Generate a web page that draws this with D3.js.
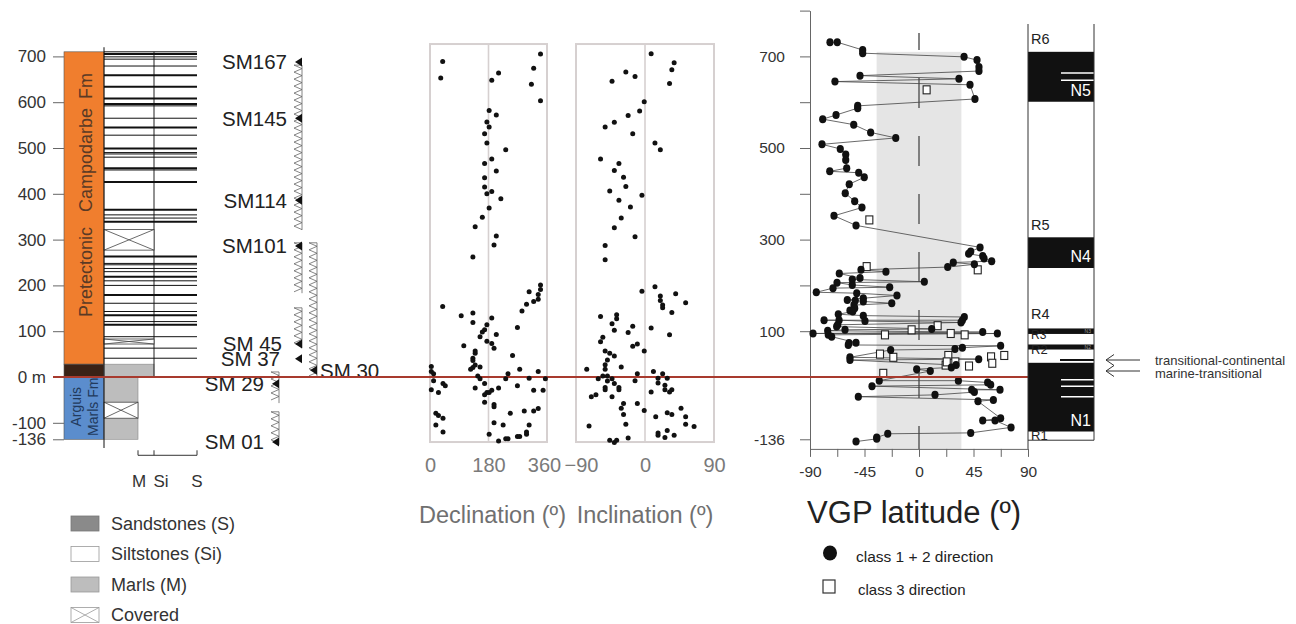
<!DOCTYPE html>
<html>
<head>
<meta charset="utf-8">
<script src="https://cdn.jsdelivr.net/npm/d3@7"></script>
<style>
  body { margin: 0; background: #fff; }
  text { font-family: "Liberation Sans", Arial, sans-serif; }
</style>
</head>
<body>
<div id="chart"></div>
<script>
let width = 1296
let height = 624

// ---- data (depths in m) ----
let depthTicks = [700, 600, 500, 400, 300, 200, 100, 0, -100, -136]
let units = [
  { name: 'campodarbe', top: 710, base: 28 },
  { name: 'transition', top: 28, base: 0 },
  { name: 'arguis', top: 0, base: -136 }
]
let sandBeds = [710, 705, 699, 694, 679, 659, 634, 608, 596, 592, 565, 545, 528, 499, 490, 487, 480, 456, 452, 426,
  365, 354, 347, 339, 263, 248, 245, 237, 230, 219, 210, 200, 179, 161, 143, 135, 121, 114, 88, 63, 41]
let thickBeds = [705, 659, 634, 608, 596, 545, 499, 456, 426, 365, 339, 263, 219, 179, 135, 114]
let marlBoxes = [[28, 0, 'Si'], [0, -136, 'M']]
let covered = [[322, 277, 'Si'], [83, 72, 'Si'], [-55, -90, 'M']]
let sampledIntervals = [['A', 681, 321], ['A', 293, 183], ['A', 151, 63], ['B', 293, -2], ['C', 11, -57], ['C', -76, -148]]
let sampleNames = ['SM167', 'SM145', 'SM114', 'SM101', 'SM 45', 'SM 37', 'SM 30', 'SM 29', 'SM 01']
let sampleDepths = [688, 565, 386, 286, 72, 40, 15, -15, -142]
let sampleCols = ['A', 'A', 'A', 'A', 'A', 'A', 'B', 'C', 'C']

// [depth, declination]
let declination = [[705,340],[689,39],[674,319],[664,211],[653,33],[648,190],[639,312],[603,340],[582,182],[572,204],
  [557,175],[546,182],[531,168],[511,175],[496,233],[476,190],[466,168],[450,204],[435,168],[415,168],[405,190],[400,175],
  [389,218],[369,182],[349,161],[328,139],[308,204],[288,197],[262,132],[201,340],[191,340],[186,305],[180,333],[170,333],
  [165,319],[159,297],[154,39],[144,283],[140,132],[134,96],[129,190],[119,132],[114,175],[108,269],[103,168],[98,161],
  [93,204],[88,154],[78,175],[73,190],[68,104],[63,197],[57,139],[52,139],[47,254],[41,132],[36,132],[26,139],[23,4],
  [22,154],[21,132],[17,125],[17,276],[12,4],[12,333],[7,11],[7,240],[2,147],[-3,305],[-4,233],[-4,355],[-4,154],[-8,11],
  [-14,168],[-14,40],[-19,269],[-19,47],[-24,211],[-24,139],[-28,4],[-29,190],[-29,319],[-29,348],[-34,175],[-34,182],
  [-34,26],[-39,168],[-55,168],[-60,197],[-65,197],[-69,333],[-74,290],[-74,319],[-79,247],[-79,18],[-84,26],[-90,40],
  [-100,197],[-105,225],[-105,305],[-105,18],[-120,297],[-120,40],[-125,182],[-125,297],[-130,269],[-130,276],[-135,233],
  [-135,240],[-140,211]]

// [depth, inclination]
let inclination = [[706,8],[686,38],[671,35],[666,-25],[656,-13],[646,-43],[641,32],[601,-1],[581,-7],[571,-22],[556,-40],
  [546,-52],[531,-16],[511,13],[496,20],[476,-58],[466,-34],[451,-40],[436,-28],[416,-25],[406,-46],[397,-4],[386,-34],
  [371,-19],[347,-31],[326,-40],[306,-13],[287,-52],[256,-52],[197,13],[187,-4],[182,40],[177,20],[167,20],[162,53],
  [157,23],[151,23],[141,35],[136,-37],[132,-58],[127,-37],[116,-43],[111,-16],[107,8],[102,-40],[97,-22],[92,32],
  [87,-55],[77,-58],[72,-10],[67,-16],[57,-1],[57,-52],[52,-46],[46,-40],[37,-49],[27,-52],[22,-31],[17,-52],[17,-76],
  [12,11],[7,-10],[7,23],[2,-55],[2,-49],[-3,17],[-3,29],[-4,-61],[-4,-43],[-8,-13],[-9,-49],[-13,17],[-14,-40],[-18,26],
  [-23,-52],[-23,-34],[-28,-52],[-28,-34],[-28,26],[-28,35],[-33,32],[-33,8],[-39,-64],[-43,-70],[-43,-43],[-58,-28],
  [-58,-10],[-68,-31],[-68,47],[-73,-1],[-78,29],[-82,-28],[-82,35],[-87,14],[-87,53],[-103,-25],[-103,53],[-107,-73],
  [-108,64],[-117,29],[-122,17],[-127,17],[-127,38],[-132,26],[-133,-22],[-138,-46],[-138,-37],[-143,-40]]

// [depth, VGP latitude], class 1 + 2, in sampling order
let vgpClass12 = [[731,-73.5],[731,-67.5],[714,-46.5],[707,-46.5],[699,37.2],[692,47.9],[677,49.5],[668,49.5],[658,-48.7],
  [651,33],[645,-69.4],[638,42.1],[607,46.2],[592,-50.6],[587,-50.6],[572,-68.5],[563,-79.5],[551,-53.9],[534,-39.9],
  [522,-19.2],[508,-80.1],[498,-65],[486,-60.5],[474,-60.5],[456,-59.7],[449,-73.7],[446,-49.8],[436,-45.2],[421,-57.6],
  [401,-60.9],[384,-53.1],[370,-47.1],[352,-70.2],[331,-52],[283,50.4],[274,42.7],[269,41],[264,52.6],[259,53.7],[253,60],
  [250,28.3],[246,45.7],[240,23.7],[234,-47.9],[230,-27.3],[226,-65.8],[216,-48.7],[213,-55.1],[208,4.4],[206,-67.7],
  [201,-55.1],[196,-24.2],[194,-71],[185,-84.8],[183,-51.4],[178,-18.2],[172,-46],[168,-59.2],[167,-52.6],[165,-46],
  [161,-22.5],[157,-53.7],[150,-53.1],[145,-57],[143,-54.7],[137,-66.6],[134,-46],[131,37.4],[124,35.8],[124,-78.4],
  [124,-66],[122,-44.6],[119,34.7],[114,-67.1],[110,-68],[105,10.5],[103,-61.1],[101,-75.4],[98,52.6],[95,-87.5],[95,64.7],
  [92,-74.9],[88,-72.1],[75,-52],[74,-57.8],[70,-58.4],[68,67.4],[64,35.8],[61,29.7],[59,-23.4],[43,-57],[39,49.3],[37,-57],
  [26,30.6],[21,26.7],[17,-1.9],[13,9.3],[-8,-32.8],[-8,32.5],[-12,56.7],[-17,59.2],[-20,-38.8],[-28,66.9],[-28,43.5],
  [-33,45.7],[-39,13.2],[-43,-50.1],[-50,61.4],[-53,48.7],[-90,67.4],[-95,52.6],[-95,62.8],[-110,76],[-122,42.7],
  [-124,-25.8],[-132,-34.9],[-135,-34.9],[-141,-52]]
let vgpClass3 = [[627,6.3],[343,-41],[241,-43.2],[234,48.5],[112,15.4],[103,-6.1],[92,-28.1],[95,26.2],[92,37.7],[50,-32.2],
  [43,-21.2],[47,24.2],[44,59.5],[47,70.4],[26,22],[33,22.9],[33,30],[30,60.5],[24,41.3],[8,-29.5]]

let normalZones = [[710, 601], [305, 238], [106, 94], [71, 60], [31, -119]]
let normalNames = ['N5', 'N4', 'N3', 'N2', 'N1']
let reversedNames = ['R6', 'R5', 'R4', 'R3', 'R2', 'R1']
let reversedDepths = [726, 321, 126, 84, 50, -137]
let whiteLines = [664, 648, -6, -20, -43]
let lithoLegend = ['Sandstones (S)', 'Siltstones (Si)', 'Marls (M)', 'Covered']

// ---- scales ----
let depth = d3.scaleLinear().domain([0, 700]).range([377, 56.4])
let grainX = d3.scaleOrdinal().domain(['base', 'M', 'Si', 'S']).range([104, 138, 154, 197])
let siteX = d3.scaleOrdinal().domain(['A', 'B', 'C']).range([294, 309, 271])
let decX = d3.scaleLinear().domain([0, 360]).range([430, 547])
let incX = d3.scaleLinear().domain([-90, 90]).range([576, 714])
let vgpX = d3.scaleLinear().domain([-90, 90]).range([810, 1028])
let vgpY = depth.copy().domain([-157, 800]).range([depth(-157), depth(800)])

let unitColor = { campodarbe: '#f07e2e', transition: '#3a2216', arguis: '#5b8dcd' }

let svg = d3.select('#chart').append('svg')
  .attr('width', width)
  .attr('height', height)

// ---- stratigraphic column ----
let strat = svg.append('g')

strat.selectAll('rect.unit')
  .data(units)
  .enter().append('rect')
  .attr('x', 64)
  .attr('width', 40)
  .attr('y', d => depth(d.top))
  .attr('height', d => depth(d.base) - depth(d.top))
  .attr('fill', d => unitColor[d.name])
  .attr('stroke', '#555')
  .attr('stroke-width', 0.6)

let depthAxis = strat.append('g')
  .attr('transform', 'translate(64,0)')
  .call(d3.axisLeft(depth).tickValues(depthTicks).tickSize(11).tickPadding(7)
    .tickFormat(d => d === 0 ? '0 m' : d))
depthAxis.select('.domain').remove()
depthAxis.selectAll('line').attr('stroke', '#666')
depthAxis.selectAll('text').attr('font-size', 17).attr('fill', '#333')

// formation name, word by word as in the original
let fmLabels = [['Fm', 86], ['Campodarbe', 160], ['Pretectonic', 272]]
strat.selectAll('text.fm')
  .data(fmLabels)
  .enter().append('text')
  .attr('transform', d => 'translate(86,' + d[1] + ') rotate(-90)')
  .attr('text-anchor', 'middle')
  .attr('dy', '0.35em')
  .attr('font-size', 18)
  .attr('fill', '#5a3a25')
  .text(d => d[0])

strat.append('text')
  .attr('transform', 'translate(76,' + depth(-65) + ') rotate(-90)')
  .attr('text-anchor', 'middle').attr('dy', '0.35em')
  .attr('font-size', 14).attr('fill', '#223a5c')
  .text('Arguis')
strat.append('text')
  .attr('transform', 'translate(93,' + depth(-65) + ') rotate(-90)')
  .attr('text-anchor', 'middle').attr('dy', '0.35em')
  .attr('font-size', 14).attr('fill', '#223a5c')
  .text('Marls Fm')

// lithology
let litho = svg.append('g')
litho.selectAll('rect.marl')
  .data(marlBoxes)
  .enter().append('rect')
  .attr('x', grainX('base'))
  .attr('y', d => depth(d[0]))
  .attr('width', d => grainX(d[2]) - grainX('base'))
  .attr('height', d => depth(d[1]) - depth(d[0]))
  .attr('fill', '#bdbdbd')
  .attr('stroke', '#888')
  .attr('stroke-width', 0.6)

litho.append('line')
  .attr('x1', grainX('Si')).attr('x2', grainX('Si'))
  .attr('y1', depth(710)).attr('y2', depth(0))
  .attr('stroke', '#222').attr('stroke-width', 1)

litho.selectAll('line.bed')
  .data(sandBeds)
  .enter().append('line')
  .attr('x1', grainX('base')).attr('x2', grainX('S'))
  .attr('y1', d => depth(d)).attr('y2', d => depth(d))
  .attr('stroke', '#111')
  .attr('stroke-width', d => thickBeds.includes(d) ? 2 : 1)

let cov = litho.selectAll('g.cov')
  .data(covered)
  .enter().append('g')
cov.append('rect')
  .attr('x', grainX('base'))
  .attr('y', d => depth(d[0]))
  .attr('width', d => grainX(d[2]) - grainX('base'))
  .attr('height', d => depth(d[1]) - depth(d[0]))
  .attr('fill', '#fff')
  .attr('stroke', '#444').attr('stroke-width', 0.8)
cov.append('path')
  .attr('d', d => {
    let x0 = grainX('base'), x1 = grainX(d[2]), y0 = depth(d[0]), y1 = depth(d[1])
    return 'M' + x0 + ',' + y0 + 'L' + x1 + ',' + y1 + 'M' + x0 + ',' + y1 + 'L' + x1 + ',' + y0
  })
  .attr('stroke', '#444').attr('stroke-width', 0.8).attr('fill', 'none')

litho.append('line')
  .attr('x1', grainX('base')).attr('x2', grainX('base'))
  .attr('y1', depth(720)).attr('y2', depth(-155))
  .attr('stroke', '#111').attr('stroke-width', 1)

// grain-size scale
let yb = depth(-136) + 16
litho.append('path')
  .attr('d', 'M' + grainX('M') + ',' + (yb - 5) + 'V' + yb + 'H' + grainX('S') + 'V' + (yb - 5) +
    'M' + grainX('Si') + ',' + yb + 'V' + (yb - 5))
  .attr('fill', 'none').attr('stroke', '#333').attr('stroke-width', 1)
litho.selectAll('text.grain')
  .data(['M', 'Si', 'S'])
  .enter().append('text')
  .attr('x', d => grainX(d) + (d === 'M' ? 1 : d === 'Si' ? 7 : 0))
  .attr('y', 487)
  .attr('text-anchor', 'middle')
  .attr('font-size', 17).attr('fill', '#333')
  .text(d => d)

// sampled intervals (zigzag hatch)
let sites = svg.append('g')
sites.selectAll('path')
  .data(sampledIntervals)
  .enter().append('path')
  .attr('d', d => {
    let x0 = siteX(d[0]), y0 = depth(d[1]), y1 = depth(d[2])
    let p = 'M' + (x0 + 8) + ',' + y0
    let k = 0
    for (let y = y0; y <= y1; y += 3.5) {
      p += 'L' + (k % 2 ? x0 + 8 : x0) + ',' + y
      k++
    }
    p += 'M' + (x0 + 8) + ',' + y0 + 'V' + y1
    return p
  })
  .attr('fill', 'none').attr('stroke', '#666').attr('stroke-width', 0.8)

sites.selectAll('path.tri')
  .data(sampleNames)
  .enter().append('path')
  .attr('d', (d, i) => {
    let x = siteX(sampleCols[i]) + 1, y = depth(sampleDepths[i])
    return 'M' + x + ',' + y + 'l7,-4.5v9z'
  })
  .attr('fill', '#111')

sites.selectAll('text')
  .data(sampleNames)
  .enter().append('text')
  .attr('x', (d, i) => sampleCols[i] === 'B' ? siteX('B') + 11 : siteX(sampleCols[i]) - (d === 'SM 45' ? 12 : d === 'SM 37' ? 14 : 7))
  .attr('y', (d, i) => depth(sampleDepths[i]))
  .attr('dy', '0.36em')
  .attr('text-anchor', (d, i) => sampleCols[i] === 'B' ? 'start' : 'end')
  .attr('font-size', 20.5).attr('fill', '#222')
  .text(d => d)

// litho legend
let leg = svg.append('g')
let legY = d3.scaleBand().domain(lithoLegend).range([508, 630])
let legFill = ['#8a8a8a', '#fff', '#bdbdbd', '#fff']
lithoLegend.forEach((name, i) => {
  let y = legY(name) + 8
  leg.append('rect')
    .attr('x', 71).attr('y', y).attr('width', 28).attr('height', 15)
    .attr('fill', legFill[i]).attr('stroke', i === 0 ? '#777' : '#999').attr('stroke-width', 0.8)
  if (name === 'Covered') {
    leg.append('path')
      .attr('d', 'M71,' + y + 'L99,' + (y + 15) + 'M71,' + (y + 15) + 'L99,' + y)
      .attr('stroke', '#999').attr('stroke-width', 0.8)
  }
  leg.append('text')
    .attr('x', 111).attr('y', y + 7.5).attr('dy', '0.36em')
    .attr('font-size', 18).attr('fill', '#333')
    .text(name)
})

// ---- declination / inclination panels ----
let panels = [
  { key: 'dec', x: decX, data: declination, ticks: [0, 180, 360], mid: 180, title: 'Declination (º)' },
  { key: 'inc', x: incX, data: inclination, ticks: [-90, 0, 90], mid: 0, title: 'Inclination (º)' }
]
let boxTop = depth(727), boxBottom = depth(-142)

panels.forEach(p => {
  let g = svg.append('g')
  let [x0, x1] = p.x.range()
  g.append('rect')
    .attr('x', x0).attr('y', boxTop)
    .attr('width', x1 - x0).attr('height', boxBottom - boxTop)
    .attr('fill', 'none').attr('stroke', '#d6d0d0').attr('stroke-width', 2)
  g.append('line')
    .attr('x1', p.x(p.mid)).attr('x2', p.x(p.mid))
    .attr('y1', boxTop).attr('y2', boxBottom)
    .attr('stroke', '#d6d0d0').attr('stroke-width', 1.6)
  let ax = g.append('g')
    .attr('transform', 'translate(0,' + (boxBottom + 16) + ')')
    .call(d3.axisBottom(p.x).tickValues(p.ticks).tickSize(0).tickPadding(0))
  ax.select('.domain').remove()
  ax.selectAll('text').attr('font-size', 20).attr('fill', '#7a7a7a')
    .attr('dx', d => d === 360 ? -3 : d === -90 ? 5 : 0)
  g.append('text')
    .attr('x', p.x(p.mid) + (p.key === 'dec' ? 4 : 0)).attr('y', 523)
    .attr('text-anchor', 'middle')
    .attr('font-size', 23.5).attr('fill', '#707070')
    .text(p.title)
})

// ---- VGP panel ----
let vgp = svg.append('g')
vgp.append('rect')
  .attr('x', vgpX(-35)).attr('width', vgpX(35) - vgpX(-35))
  .attr('y', depth(710)).attr('height', vgpY(-157) - depth(710))
  .attr('fill', '#e5e5e5')
vgp.append('line')
  .attr('x1', vgpX(0)).attr('x2', vgpX(0))
  .attr('y1', 33).attr('y2', vgpY(-157))
  .attr('stroke', '#666').attr('stroke-width', 1.6)
  .attr('stroke-dasharray', '30,28').attr('stroke-dashoffset', 13)

let vy = vgp.append('g')
  .attr('transform', 'translate(' + vgpX(-90) + ',0)')
  .call(d3.axisLeft(vgpY).tickValues([800, 700, 600, 500, 400, 300, 200, 100, -136])
    .tickSize(10).tickSizeOuter(0).tickPadding(15)
    .tickFormat(d => [700, 500, 300, 100, -136].includes(d) ? d : ''))
let vx = vgp.append('g')
  .attr('transform', 'translate(0,' + vgpY(-157) + ')')
  .call(d3.axisBottom(vgpX).tickValues(d3.range(-90, 91, 22.5))
    .tickSize(8).tickSizeOuter(0).tickPadding(9)
    .tickFormat(d => d % 45 === 0 ? d : ''))
;[vy, vx].forEach(a => {
  a.selectAll('line,path').attr('stroke', '#666')
  a.selectAll('text').attr('font-size', 15.5).attr('fill', '#333')
})

// red boundary line (0 m)
svg.append('line')
  .attr('x1', 53).attr('x2', 1094)
  .attr('y1', depth(0)).attr('y2', depth(0))
  .attr('stroke', '#a83a2e').attr('stroke-width', 2)

// dec / inc dots
panels.forEach(p => {
  svg.append('g').selectAll('circle')
    .data(p.data)
    .enter().append('circle')
    .attr('cx', d => p.x(d[1]))
    .attr('cy', d => depth(d[0]))
    .attr('r', 2.5)
    .attr('fill', '#111')
})

vgp.append('path')
  .datum(vgpClass12)
  .attr('d', d3.line().x(d => vgpX(d[1])).y(d => depth(d[0])))
  .attr('fill', 'none').attr('stroke', '#444').attr('stroke-width', 0.8)

vgp.selectAll('rect.c3')
  .data(vgpClass3)
  .enter().append('rect')
  .attr('x', d => vgpX(d[1]) - 3.5)
  .attr('y', d => depth(d[0]) - 4)
  .attr('width', 7).attr('height', 8)
  .attr('fill', '#fff').attr('stroke', '#222').attr('stroke-width', 1.1)

vgp.selectAll('ellipse')
  .data(vgpClass12)
  .enter().append('ellipse')
  .attr('cx', d => vgpX(d[1]))
  .attr('cy', d => depth(d[0]))
  .attr('rx', 3.6).attr('ry', 4)
  .attr('fill', '#111')

vgp.append('text')
  .attr('x', vgpX(-4)).attr('y', 523)
  .attr('text-anchor', 'middle')
  .attr('font-size', 31).attr('fill', '#222')
  .text('VGP latitude (º)')

vgp.append('ellipse').attr('cx', 830).attr('cy', 553).attr('rx', 7).attr('ry', 7.5).attr('fill', '#111')
vgp.append('text').attr('x', 856).attr('y', 562).attr('font-size', 15.5).attr('fill', '#222').text('class 1 + 2 direction')
vgp.append('rect').attr('x', 823).attr('y', 580).attr('width', 12).attr('height', 13)
  .attr('fill', '#fff').attr('stroke', '#333').attr('stroke-width', 1.2)
vgp.append('text').attr('x', 858).attr('y', 595).attr('font-size', 15).attr('fill', '#222').text('class 3 direction')

// ---- polarity column ----
let pol = svg.append('g')
let pX0 = vgpX(90), pX1 = 1094
pol.selectAll('rect')
  .data(normalZones)
  .enter().append('rect')
  .attr('x', pX0).attr('width', pX1 - pX0)
  .attr('y', d => depth(d[0]))
  .attr('height', d => depth(d[1]) - depth(d[0]))
  .attr('fill', '#111')
pol.selectAll('line.w')
  .data(whiteLines)
  .enter().append('line')
  .attr('x1', 1061).attr('x2', pX1)
  .attr('y1', d => depth(d)).attr('y2', d => depth(d))
  .attr('stroke', '#fff').attr('stroke-width', 1.5)
pol.append('line')
  .attr('x1', 1060).attr('x2', pX1)
  .attr('y1', depth(37)).attr('y2', depth(37))
  .attr('stroke', '#111').attr('stroke-width', 2)
pol.append('path')
  .attr('d', 'M' + pX0 + ',24V' + vgpY(-157) + 'M' + pX1 + ',24V' + depth(-138) + 'H' + pX0)
  .attr('fill', 'none').attr('stroke', '#333').attr('stroke-width', 1)

pol.selectAll('text.n')
  .data(normalNames)
  .enter().append('text')
  .attr('x', pX1 - 3)
  .attr('y', (d, i) => i === 2 || i === 3 ? depth(normalZones[i][1]) - 1 : depth(normalZones[i][1]) - 6)
  .attr('text-anchor', 'end')
  .attr('font-size', (d, i) => i === 2 || i === 3 ? 5 : 16)
  .attr('fill', (d, i) => i === 2 || i === 3 ? '#999' : '#fff')
  .text(d => d)

pol.selectAll('text.r')
  .data(reversedNames)
  .enter().append('text')
  .attr('x', pX0 + 3)
  .attr('y', (d, i) => depth(reversedDepths[i]))
  .attr('font-size', d => d === 'R3' ? 12 : d === 'R2' || d === 'R1' ? 13 : 14.5)
  .attr('fill', '#222')
  .text(d => d)

// facies boundary arrows
let arrows = [['transitional-continental', 360, 364.5], ['marine-transitional', 371, 378]]
arrows.forEach(a => {
  pol.append('path')
    .attr('d', 'M1140,' + a[1] + 'H1106M1114,' + (a[1] - 5.5) + 'L1106,' + a[1] + 'L1114,' + (a[1] + 5.5))
    .attr('fill', 'none').attr('stroke', '#333').attr('stroke-width', 1)
  pol.append('text')
    .attr('x', 1155).attr('y', a[2])
    .attr('font-size', 13).attr('fill', '#333')
    .text(a[0])
})
</script>
</body>
</html>
